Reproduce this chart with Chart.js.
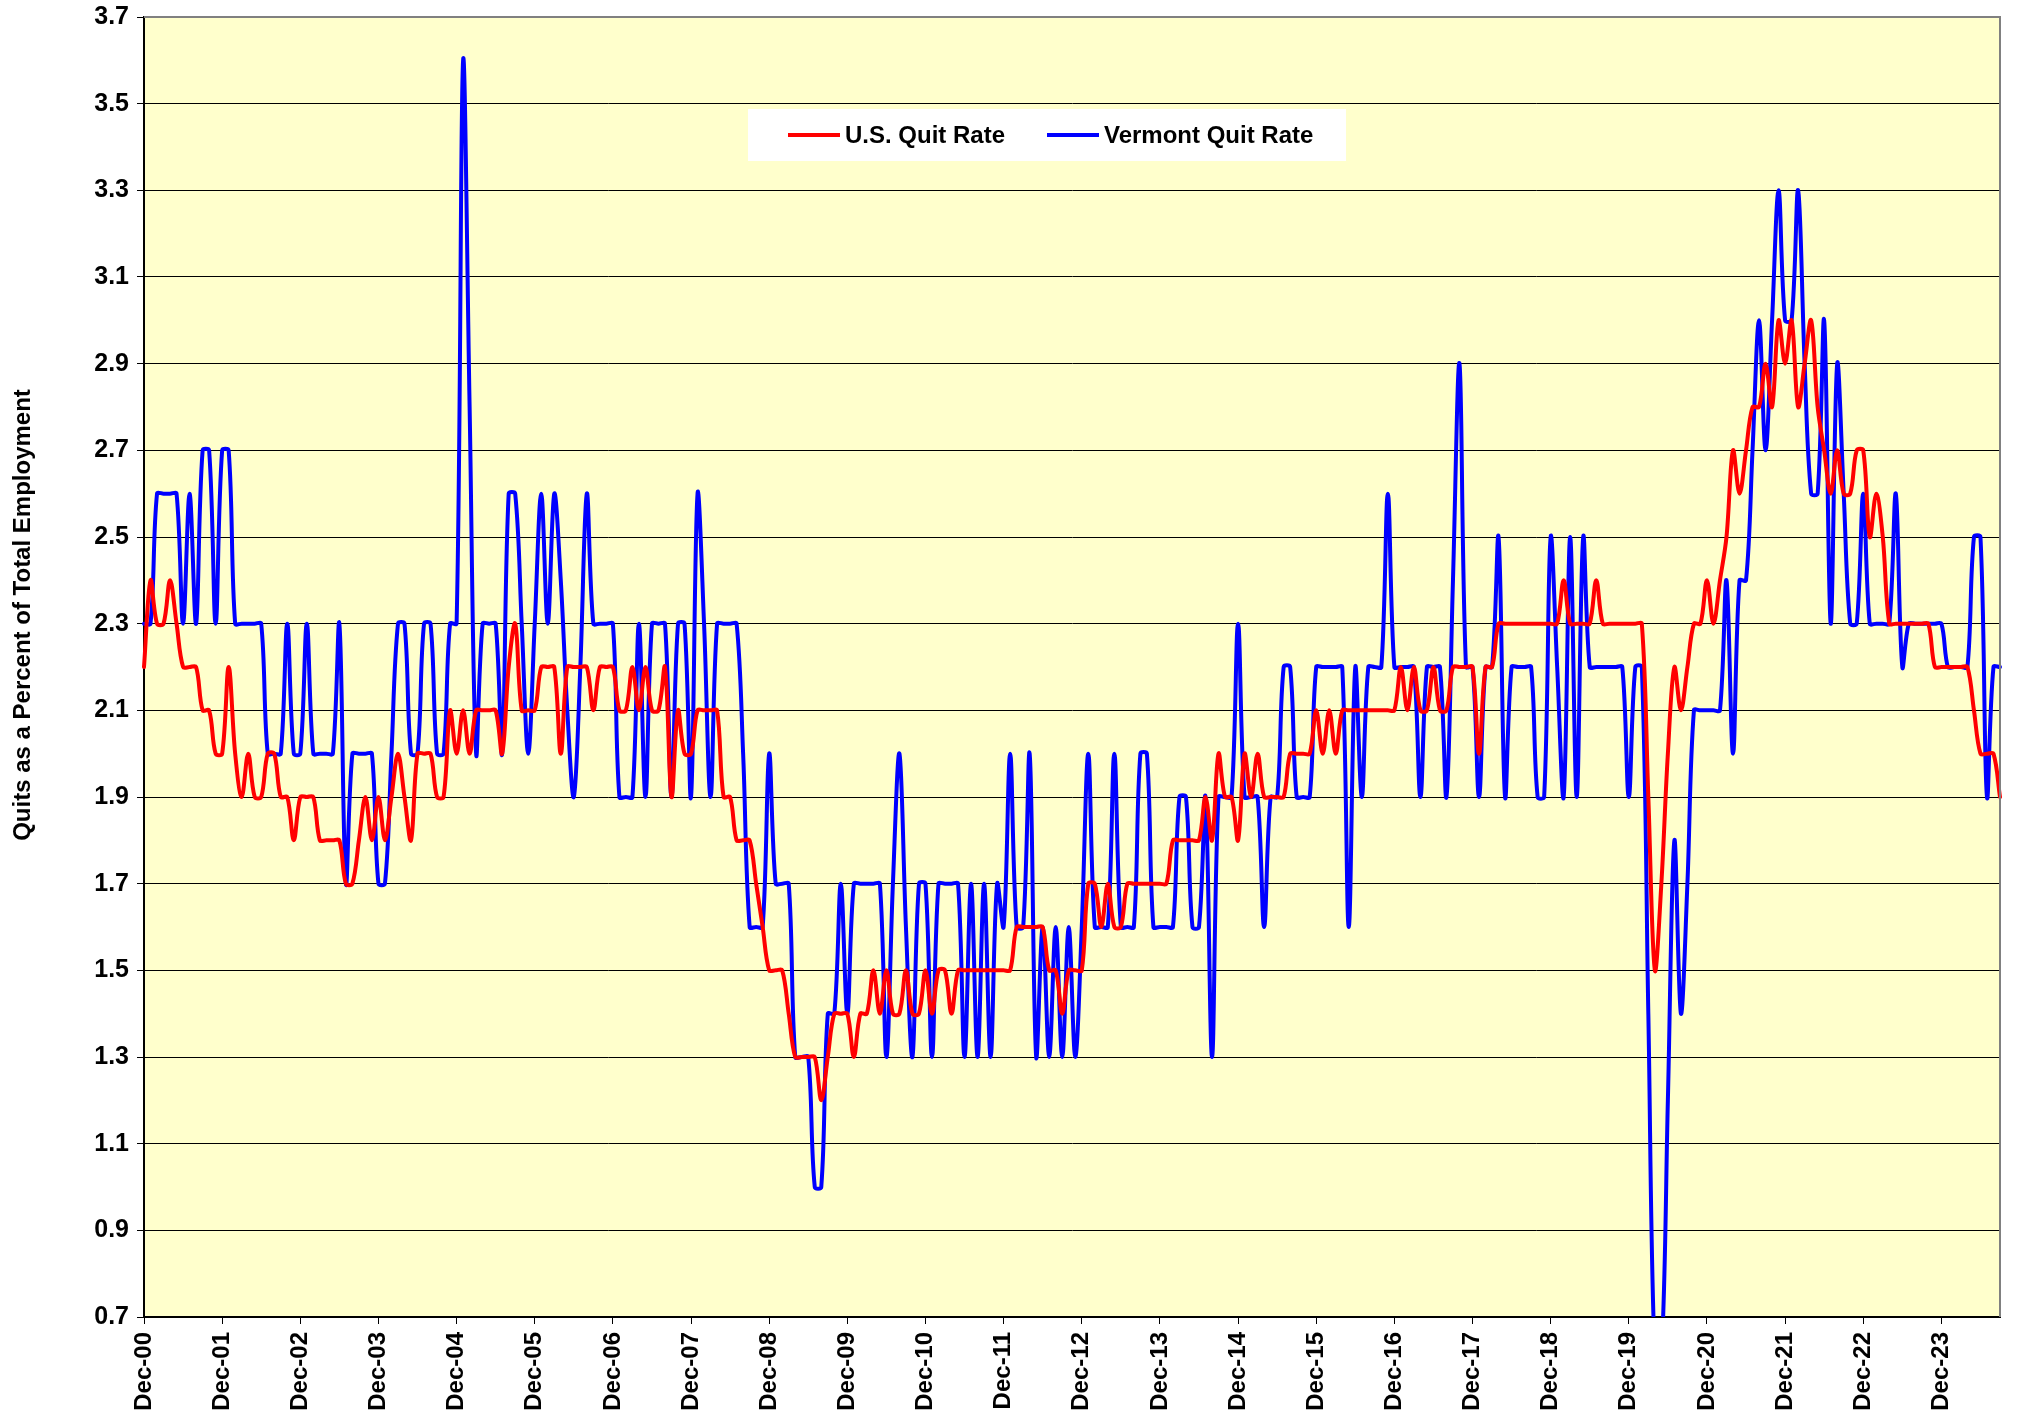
<!DOCTYPE html>
<html>
<head>
<meta charset="utf-8">
<script src="https://cdn.jsdelivr.net/npm/chart.js@4.4.1/dist/chart.umd.min.js"></script>
<style>
  html, body { margin: 0; padding: 0; background: #fff; }
  #wrap { width: 2019px; height: 1414px; }
</style>
</head>
<body>
<div id="wrap"><canvas id="quits" width="2019" height="1414"></canvas></div>
<script>
// monthly quits rate, Dec-00 .. Sep-24 (one row = Dec..Nov)
const usQuitRate = [
  2.2, 2.4, 2.3, 2.3, 2.4, 2.3, 2.2, 2.2, 2.2, 2.1, 2.1, 2.0,
  2.0, 2.2, 2.0, 1.9, 2.0, 1.9, 1.9, 2.0, 2.0, 1.9, 1.9, 1.8,
  1.9, 1.9, 1.9, 1.8, 1.8, 1.8, 1.8, 1.7, 1.7, 1.8, 1.9, 1.8,
  1.9, 1.8, 1.9, 2.0, 1.9, 1.8, 2.0, 2.0, 2.0, 1.9, 1.9, 2.1,
  2.0, 2.1, 2.0, 2.1, 2.1, 2.1, 2.1, 2.0, 2.2, 2.3, 2.1, 2.1,
  2.1, 2.2, 2.2, 2.2, 2.0, 2.2, 2.2, 2.2, 2.2, 2.1, 2.2, 2.2,
  2.2, 2.1, 2.1, 2.2, 2.1, 2.2, 2.1, 2.1, 2.2, 1.9, 2.1, 2.0,
  2.0, 2.1, 2.1, 2.1, 2.1, 1.9, 1.9, 1.8, 1.8, 1.8, 1.7, 1.6,
  1.5, 1.5, 1.5, 1.4, 1.3, 1.3, 1.3, 1.3, 1.2, 1.3, 1.4, 1.4,
  1.4, 1.3, 1.4, 1.4, 1.5, 1.4, 1.5, 1.4, 1.4, 1.5, 1.4, 1.4,
  1.5, 1.4, 1.5, 1.5, 1.4, 1.5, 1.5, 1.5, 1.5, 1.5, 1.5, 1.5,
  1.5, 1.5, 1.6, 1.6, 1.6, 1.6, 1.6, 1.5, 1.5, 1.4, 1.5, 1.5,
  1.5, 1.7, 1.7, 1.6, 1.7, 1.6, 1.6, 1.7, 1.7, 1.7, 1.7, 1.7,
  1.7, 1.7, 1.8, 1.8, 1.8, 1.8, 1.8, 1.9, 1.8, 2.0, 1.9, 1.9,
  1.8, 2.0, 1.9, 2.0, 1.9, 1.9, 1.9, 1.9, 2.0, 2.0, 2.0, 2.0,
  2.1, 2.0, 2.1, 2.0, 2.1, 2.1, 2.1, 2.1, 2.1, 2.1, 2.1, 2.1,
  2.1, 2.2, 2.1, 2.2, 2.1, 2.1, 2.2, 2.1, 2.1, 2.2, 2.2, 2.2,
  2.2, 2.0, 2.2, 2.2, 2.3, 2.3, 2.3, 2.3, 2.3, 2.3, 2.3, 2.3,
  2.3, 2.3, 2.4, 2.3, 2.3, 2.3, 2.3, 2.4, 2.3, 2.3, 2.3, 2.3,
  2.3, 2.3, 2.3, 1.9, 1.5, 1.7, 2.0, 2.2, 2.1, 2.2, 2.3, 2.3,
  2.4, 2.3, 2.4, 2.5, 2.7, 2.6, 2.7, 2.8, 2.8, 2.9, 2.8, 3.0,
  2.9, 3.0, 2.8, 2.9, 3.0, 2.8, 2.7, 2.6, 2.7, 2.6, 2.6, 2.7,
  2.7, 2.5, 2.6, 2.5, 2.3, 2.3, 2.3, 2.3, 2.3, 2.3, 2.3, 2.2,
  2.2, 2.2, 2.2, 2.2, 2.2, 2.1, 2.0, 2.0, 2.0, 1.9
];

const vtQuitRate = [
  2.3, 2.3, 2.6, 2.6, 2.6, 2.6, 2.3, 2.6, 2.3, 2.7, 2.7, 2.3,
  2.7, 2.7, 2.3, 2.3, 2.3, 2.3, 2.3, 2.0, 2.0, 2.0, 2.3, 2.0,
  2.0, 2.3, 2.0, 2.0, 2.0, 2.0, 2.3, 1.7, 2.0, 2.0, 2.0, 2.0,
  1.7, 1.7, 2.0, 2.3, 2.3, 2.0, 2.0, 2.3, 2.3, 2.0, 2.0, 2.3,
  2.3, 3.6, 2.8, 2.0, 2.3, 2.3, 2.3, 2.0, 2.6, 2.6, 2.3, 2.0,
  2.3, 2.6, 2.3, 2.6, 2.4, 2.1, 1.9, 2.2, 2.6, 2.3, 2.3, 2.3,
  2.3, 1.9, 1.9, 1.9, 2.3, 1.9, 2.3, 2.3, 2.3, 1.9, 2.3, 2.3,
  1.9, 2.6, 2.3, 1.9, 2.3, 2.3, 2.3, 2.3, 2.0, 1.6, 1.6, 1.6,
  2.0, 1.7, 1.7, 1.7, 1.3, 1.3, 1.3, 1.0, 1.0, 1.4, 1.4, 1.7,
  1.4, 1.7, 1.7, 1.7, 1.7, 1.7, 1.3, 1.7, 2.0, 1.6, 1.3, 1.7,
  1.7, 1.3, 1.7, 1.7, 1.7, 1.7, 1.3, 1.7, 1.3, 1.7, 1.3, 1.7,
  1.6, 2.0, 1.6, 1.6, 2.0, 1.3, 1.6, 1.3, 1.6, 1.3, 1.6, 1.3,
  1.6, 2.0, 1.6, 1.6, 1.6, 2.0, 1.6, 1.6, 1.6, 2.0, 2.0, 1.6,
  1.6, 1.6, 1.6, 1.9, 1.9, 1.6, 1.6, 1.9, 1.3, 1.9, 1.9, 1.9,
  2.3, 1.9, 1.9, 1.9, 1.6, 1.9, 1.9, 2.2, 2.2, 1.9, 1.9, 1.9,
  2.2, 2.2, 2.2, 2.2, 2.2, 1.6, 2.2, 1.9, 2.2, 2.2, 2.2, 2.6,
  2.2, 2.2, 2.2, 2.2, 1.9, 2.2, 2.2, 2.2, 1.9, 2.4, 2.9, 2.2,
  2.2, 1.9, 2.2, 2.2, 2.5, 1.9, 2.2, 2.2, 2.2, 2.2, 1.9, 1.9,
  2.5, 2.2, 1.9, 2.5, 1.9, 2.5, 2.2, 2.2, 2.2, 2.2, 2.2, 2.2,
  1.9, 2.2, 2.2, 1.4, 0.6, 0.6, 1.2, 1.8, 1.4, 1.7, 2.1, 2.1,
  2.1, 2.1, 2.1, 2.4, 2.0, 2.4, 2.4, 2.7, 3.0, 2.7, 3.0, 3.3,
  3.0, 3.0, 3.3, 2.9, 2.6, 2.6, 3.0, 2.3, 2.9, 2.6, 2.3, 2.3,
  2.6, 2.3, 2.3, 2.3, 2.3, 2.6, 2.2, 2.3, 2.3, 2.3, 2.3, 2.3,
  2.3, 2.2, 2.2, 2.2, 2.2, 2.5, 2.5, 1.9, 2.2, 2.2
];

const MONTHS = ["Jan", "Feb", "Mar", "Apr", "May", "Jun", "Jul", "Aug", "Sep", "Oct", "Nov", "Dec"];
const yTicks = [0.7, 0.9, 1.1, 1.3, 1.5, 1.7, 1.9, 2.1, 2.3, 2.5, 2.7, 2.9, 3.1, 3.3, 3.5, 3.7];

// category labels, first point is Dec 2000
const months = [];
for (let i = 0; i < usQuitRate.length; i++) {
  const k = 11 + i;
  const yr = (2000 + Math.floor(k / 12)) % 100;
  months.push(MONTHS[k % 12] + "-" + String(yr).padStart(2, "0"));
}

const FONT = "'Liberation Sans', Arial, sans-serif";

// yellow plot area + grey frame on top/right
const plotArea = {
  id: "plotArea",
  beforeDraw(chart) {
    const { ctx, chartArea: a } = chart;
    ctx.save();
    ctx.fillStyle = "#FFFFCC";
    ctx.fillRect(a.left, a.top, a.right - a.left, a.bottom - a.top);
    ctx.restore();
  },
  afterDraw(chart) {
    const { ctx, chartArea: a } = chart;
    ctx.save();
    ctx.strokeStyle = "#808080";
    ctx.lineWidth = 2;
    ctx.beginPath();
    ctx.moveTo(a.left, a.top);
    ctx.lineTo(a.right, a.top);
    ctx.lineTo(a.right, a.bottom);
    ctx.stroke();
    ctx.restore();
  }
};

// axis title sits a bit above the middle, as in the original
const yTitle = {
  id: "yTitle",
  afterDraw(chart) {
    const ctx = chart.ctx;
    ctx.save();
    ctx.translate(23, 615);
    ctx.rotate(-Math.PI / 2);
    ctx.font = "bold 24px " + FONT;
    ctx.fillStyle = "#000";
    ctx.textAlign = "center";
    ctx.textBaseline = "middle";
    ctx.fillText("Quits as a Percent of Total Employment", 0, 0);
    ctx.restore();
  }
};

// white legend box inside the plot
const boxLegend = {
  id: "boxLegend",
  afterDraw(chart) {
    const ctx = chart.ctx;
    const ds = chart.data.datasets;
    ctx.save();
    ctx.fillStyle = "#fff";
    ctx.fillRect(748, 109, 598, 52);
    ctx.font = "bold 24px " + FONT;
    ctx.textBaseline = "middle";
    const items = [[788, ds[0]], [1047, ds[1]]];
    items.forEach(([x, d]) => {
      ctx.strokeStyle = d.borderColor;
      ctx.lineWidth = 4;
      ctx.beginPath();
      ctx.moveTo(x, 135);
      ctx.lineTo(x + 52, 135);
      ctx.stroke();
      ctx.fillStyle = "#000";
      ctx.fillText(d.label, x + 57, 136);
    });
    ctx.restore();
  }
};

new Chart(document.getElementById("quits"), {
  type: "line",
  data: {
    labels: months,
    datasets: [
      {
        label: "U.S. Quit Rate",
        data: usQuitRate,
        borderColor: "#FF0000",
      },
      {
        label: "Vermont Quit Rate",
        data: vtQuitRate,
        borderColor: "#0000FF",
      },
    ],
  },
  options: {
    responsive: false,
    animation: false,
    events: [],
    layout: { padding: { top: 17, right: 19, left: 0, bottom: 0 } },
    elements: {
      point: { radius: 0 },
      line: { borderWidth: 4, tension: 0.35, borderJoinStyle: "round", borderCapStyle: "round", fill: false },
    },
    plugins: {
      legend: { display: false },
      tooltip: { enabled: false },
    },
    scales: {
      x: {
        type: "category",
        afterFit: (s) => { s.height = 97; s.paddingLeft = 0; s.paddingRight = 0; },
        grid: {
          drawOnChartArea: false,
          tickLength: 7,
          color: (c) => (c.index % 12 === 0 ? "#000" : "rgba(0,0,0,0)"),
        },
        border: { color: "#000", width: 2 },
        ticks: {
          autoSkip: false,
          minRotation: 90,
          maxRotation: 90,
          padding: 8,
          color: "#000",
          font: { family: FONT, size: 24, weight: "bold" },
          callback: function (v, i) {
            const l = this.getLabelForValue(v);
            return l.startsWith("Dec") ? l : "";
          },
        },
      },
      y: {
        min: 0.7,
        max: 3.7,
        afterFit: (s) => { s.width = 144; s.paddingTop = 0; s.paddingBottom = 0; },
        afterBuildTicks: (s) => { s.ticks = yTicks.map((v) => ({ value: v })); },
        grid: { color: "#000", lineWidth: 1, tickLength: 7 },
        border: { color: "#000", width: 2 },
        ticks: {
          padding: 8,
          color: "#000",
          font: { family: FONT, size: 25, weight: "bold" },
          callback: (v) => Number(v).toFixed(1),
        },
      },
    },
  },
  plugins: [plotArea, yTitle, boxLegend],
});
</script>
</body>
</html>
